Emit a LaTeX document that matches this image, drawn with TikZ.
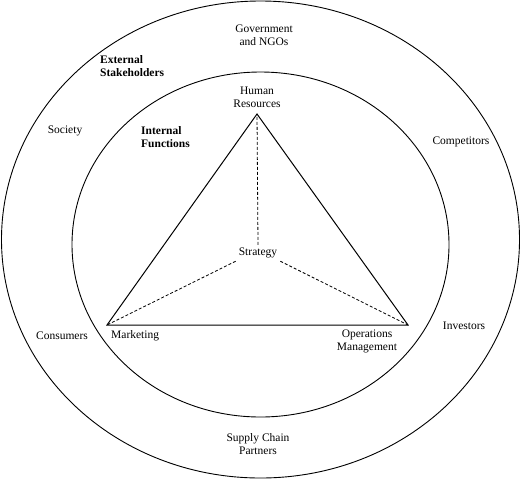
\documentclass[tikz,border=0pt]{standalone}
\usepackage{fontspec}
\setmainfont{Liberation Serif}
\begin{document}
\begin{tikzpicture}[x=1pt,y=-1pt,
  ring/.style={line width=0.9pt},
  edge/.style={line width=1pt},
  link/.style={line width=0.8pt, dash pattern=on 3pt off 2pt},
  lbl/.style={font=\fontsize{11.5}{13}\selectfont, align=center, inner sep=1pt},
  hdr/.style={font=\fontsize{11.5}{13}\selectfont\bfseries, align=left, inner sep=1pt, anchor=west}]
  \useasboundingbox (0,0) rectangle (521,480);
  % the two rings
  \draw[ring] (260.5,239.5) ellipse [x radius=259, y radius=238.5];
  \draw[ring] (260.5,244.5) ellipse [x radius=188.5, y radius=172.5];
  % corners of the triangle
  \coordinate (hr) at (257,114);
  \coordinate (mk) at (107,325);
  \coordinate (om) at (408,325);
  \draw[edge, line join=miter] (hr) -- (mk) -- (om) -- cycle;
  \node[lbl, inner sep=3pt] (strategy) at (258,253) {Strategy};
  \draw[link] (strategy.north) -- (hr);
  \draw[link] (strategy.south west) -- (mk);
  \draw[link] (strategy.south east) -- (om);
  % internal functions
  \node[lbl] (hrtext) at (257,97.5) {Human\\Resources};
  \node[lbl, anchor=west] (mktext) at (110,336) {Marketing};
  \node[lbl] (omtext) at (367,341) {Operations\\Management};
  \node[hdr] (internal) at (140,137.5) {Internal\\Functions};
  % external stakeholders
  \node[hdr] (external) at (99,66.5) {External\\Stakeholders};
  \node[lbl] (gov) at (264,35.5) {Government\\and NGOs};
  \node[lbl] (society) at (65,131) {Society};
  \node[lbl] (competitors) at (461,142) {Competitors};
  \node[lbl] (consumers) at (62,336) {Consumers};
  \node[lbl] (investors) at (464,326) {Investors};
  \node[lbl] (supply) at (258,444) {Supply Chain\\Partners};
\end{tikzpicture}
\end{document}
